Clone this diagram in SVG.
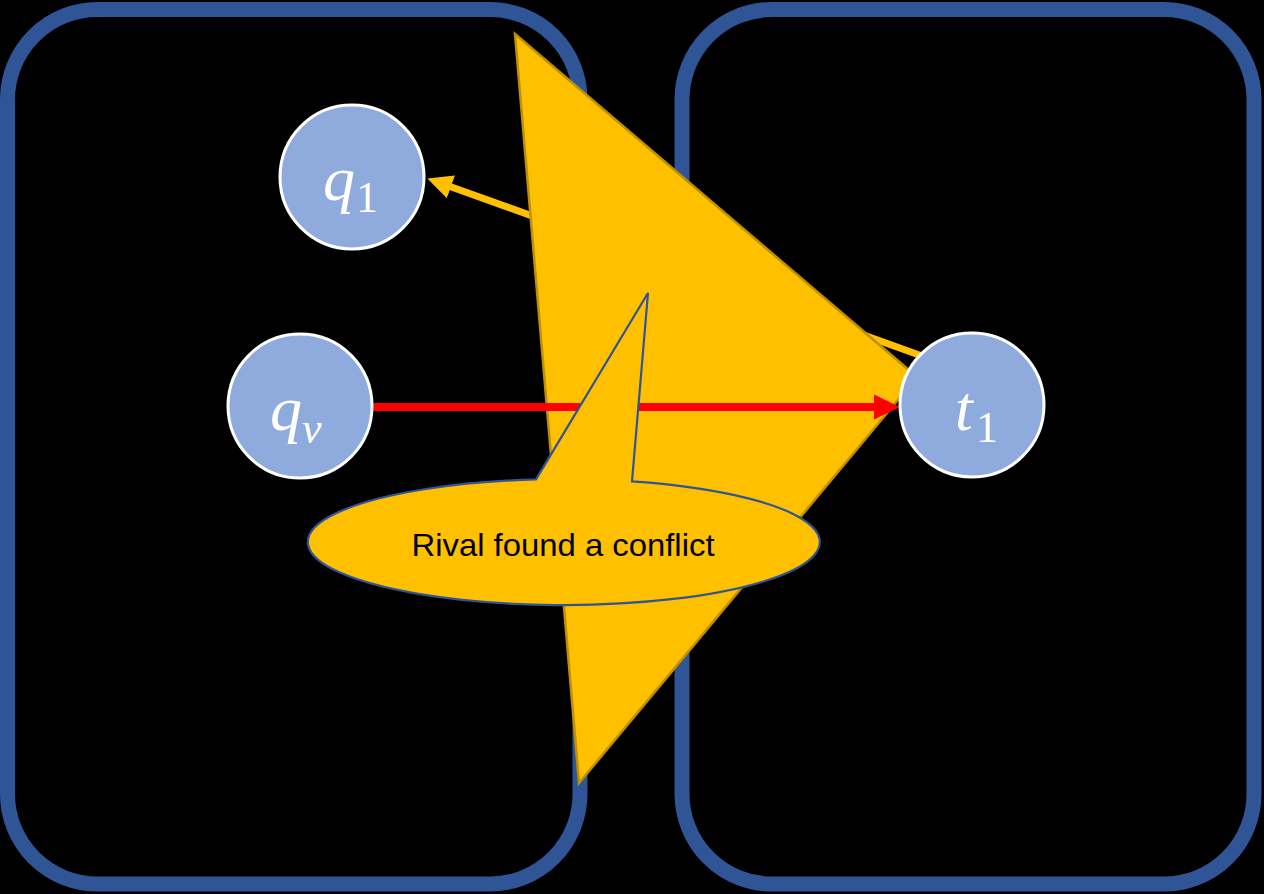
<svg xmlns="http://www.w3.org/2000/svg" width="1264" height="894" viewBox="0 0 1264 894">
<style>
.box{fill:none;stroke:#2F5597;stroke-width:15}
.node{fill:#8FAADC;stroke:#FFFFFF;stroke-width:3}
.mi{font-family:"Liberation Serif",serif;font-style:italic;fill:#FFFFFF}
.mn{font-family:"Liberation Serif",serif;fill:#FFFFFF}
.lbl{font-family:"Liberation Sans",Arial,sans-serif;font-size:32px;fill:#000000}
</style>
<defs>
<marker id="headRed" markerUnits="userSpaceOnUse" markerWidth="26" markerHeight="26" viewBox="0 0 26 26" refX="1" refY="13" orient="auto">
<path d="M0,0.5 L26,13 L0,25.5 Z" fill="#FF0000"/>
</marker>
<marker id="headYellow" markerUnits="userSpaceOnUse" markerWidth="26" markerHeight="26" viewBox="0 0 26 26" refX="1" refY="13" orient="auto">
<path d="M0,1 L25,13 L0,25 Z" fill="#FFC000"/>
</marker>
</defs>
<rect x="0" y="0" width="1264" height="894" fill="#000000"/>
<g id="box-left"><rect class="box" x="7.5" y="9.5" width="572.5" height="874.5" rx="90" ry="90"/></g>
<g id="box-right"><rect class="box" x="682" y="9.5" width="572" height="874.5" rx="90" ry="90"/></g>
<g id="connectors">
<line x1="922" y1="356" x2="450" y2="186.5" stroke="#FFC000" stroke-width="7" marker-end="url(#headYellow)"/>
</g>
<g id="bolt"><polygon points="515,34 917,377 579,783" fill="#FFC000" stroke="#BF9000" stroke-width="2.5" stroke-linejoin="miter"/></g>
<g id="connectors-top">
<line x1="373" y1="407" x2="875" y2="407" stroke="#FF0000" stroke-width="8" marker-end="url(#headRed)"/>
</g>
<g id="node-q1">
<circle class="node" cx="352" cy="177" r="72"/>
<text class="mi" x="323" y="200" font-size="64">q</text>
<text class="mn" x="356" y="212" font-size="44">1</text>
</g>
<g id="node-qv">
<circle class="node" cx="300" cy="406" r="72"/>
<text class="mi" x="270" y="430" font-size="64">q</text>
<text class="mi" x="302" y="443" font-size="44">v</text>
</g>
<g id="node-t1">
<circle class="node" cx="972" cy="405" r="72"/>
<text class="mi" x="955" y="430" font-size="64">t</text>
<text class="mn" x="976" y="442" font-size="44">1</text>
</g>
<g id="callout">
<path d="M536,479.4 L648,293 L632,481.3 A256,63 0 1 1 536,479.4 Z" fill="#FFC000" stroke="#2F5597" stroke-width="2.2" stroke-linejoin="miter"/>
<text class="lbl" x="563" y="556" text-anchor="middle" textLength="303" lengthAdjust="spacingAndGlyphs">Rival found a conflict</text>
</g>
</svg>
